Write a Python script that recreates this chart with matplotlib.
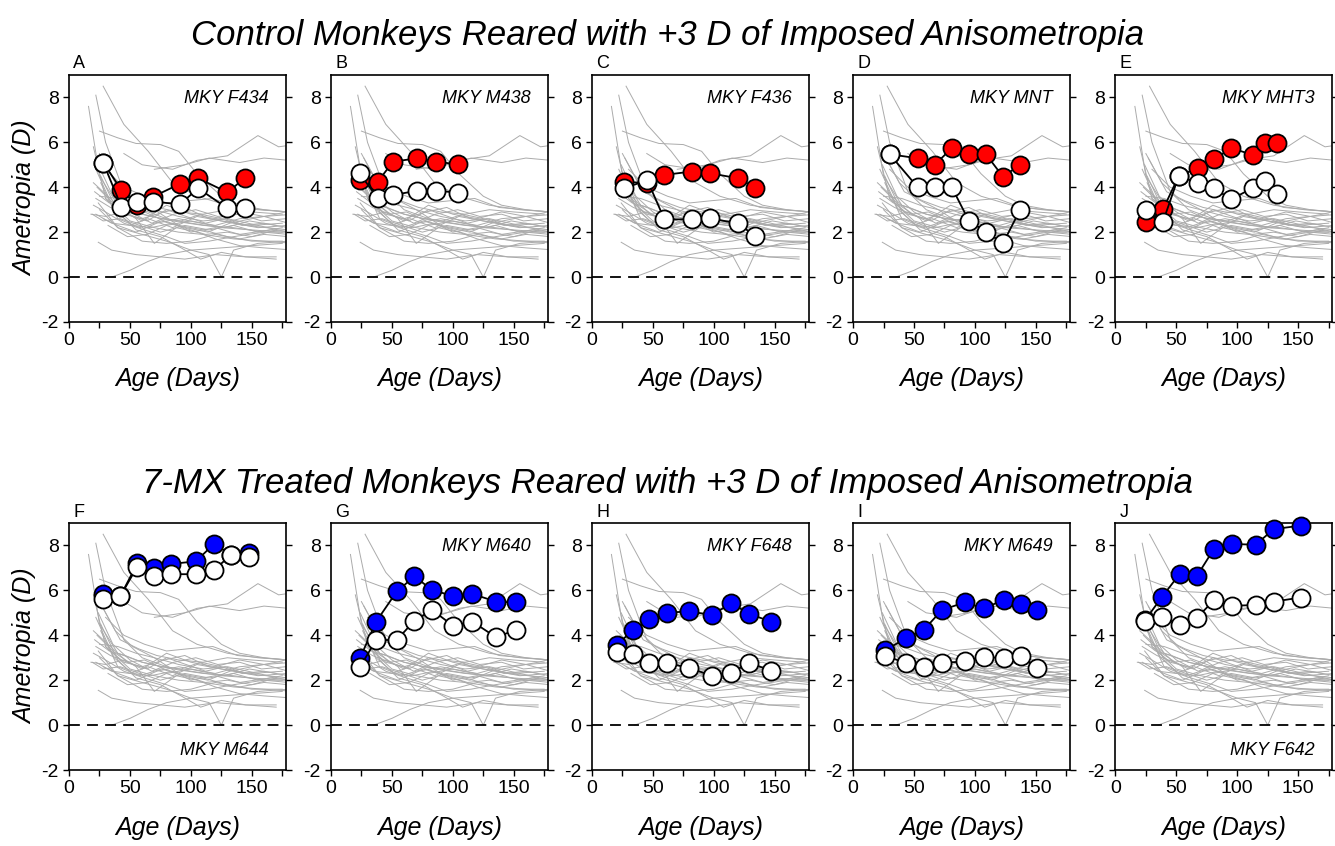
import matplotlib
matplotlib.use("Agg")
import matplotlib.pyplot as plt

plt.rcParams["font.family"] = ["Liberation Sans", "DejaVu Sans"]
plt.rcParams["axes.unicode_minus"] = False

# normative (untreated) monkeys, same background in every panel
norm_ages = [
    [16, 25, 40, 60, 85, 110, 135, 160, 185],
    [22, 30, 45, 60, 80, 100, 125, 150, 175],
    [28, 45, 65, 85, 105, 130, 155, 180],
    [25, 40, 55, 75, 90, 105, 125, 140, 160, 180],
    [45, 60, 85, 105, 130, 155, 172, 185],
    [70, 95, 115, 140, 160, 180],
    [35, 50, 65, 80, 100, 125, 150, 175],
    [25, 40, 60, 80, 100, 115, 125, 135, 155, 180],
    [24, 35, 55, 75, 95, 120, 145, 170],
    [20, 30, 50, 70, 90, 110, 135, 160, 185],
    [20, 32, 48, 64, 80, 96, 112, 128, 145, 162, 180],
    [22, 35, 50, 65, 85, 105, 125, 150, 175],
    [18, 30, 45, 60, 80, 100, 120, 140, 160, 185],
    [25, 40, 55, 70, 90, 110, 130, 155, 180],
    [22, 37, 52, 67, 85, 100, 120, 140, 165, 185],
    [27, 42, 57, 72, 90, 110, 130, 150, 175],
    [20, 30, 45, 62, 80, 95, 115, 135, 160, 180],
    [23, 38, 55, 70, 88, 105, 120, 140, 160, 185],
    [30, 45, 60, 78, 95, 115, 135, 155, 180],
    [26, 40, 55, 75, 92, 108, 125, 145, 170],
    [21, 33, 46, 60, 76, 92, 108, 125, 142, 160, 180],
    [24, 36, 50, 68, 86, 104, 122, 140, 158, 178],
    [19, 28, 42, 58, 75, 95, 115, 135, 155, 175],
    [30, 45, 62, 80, 98, 118, 138, 158, 180],
    [24, 40, 60, 80, 100, 120, 140, 160, 180],
    [28, 40, 55, 72, 90, 108, 128, 148, 170],
    [22, 34, 48, 62, 78, 96, 114, 132, 150, 170, 185],
    [25, 38, 52, 70, 90, 110, 130, 150, 175],
    [32, 48, 64, 80, 100, 120, 140, 160, 180],
    [26, 40, 58, 76, 94, 112, 130, 150, 170],
]
norm_vals = [
    [7.6, 4.5, 3.2, 2.8, 2.5, 2.3, 2.2, 2.0, 2.0],
    [8.1, 6.0, 3.8, 3.0, 2.6, 2.4, 2.2, 2.1, 2.0],
    [8.5, 6.8, 5.6, 4.2, 3.6, 3.2, 3.0, 2.9],
    [6.5, 6.2, 5.95, 5.9, 5.6, 4.6, 3.6, 3.2, 3.0, 2.9],
    [5.5, 5.0, 4.8, 5.2, 5.4, 6.3, 5.8, 5.9],
    [4.8, 5.0, 5.3, 5.1, 5.3, 5.2],
    [0.0, 0.3, 0.7, 1.0, 1.2, 1.3, 1.4, 1.5],
    [3.0, 2.2, 1.9, 1.6, 1.2, 1.0, 0.0, 1.2, 1.5, 1.6],
    [1.55, 1.2, 1.0, 0.9, 0.8, 1.0, 0.9, 0.9],
    [5.8, 3.5, 2.5, 2.2, 2.0, 1.9, 1.7, 1.6, 1.5],
    [4.2, 3.6, 2.8, 2.5, 3.0, 2.7, 2.4, 2.6, 2.3, 2.2, 2.1],
    [2.8, 2.4, 2.3, 2.6, 2.2, 2.7, 2.5, 2.3, 2.4],
    [2.8, 2.7, 2.9, 2.5, 3.2, 2.8, 2.6, 2.9, 2.7, 2.8],
    [3.6, 3.5, 3.2, 3.0, 2.7, 2.5, 2.6, 2.3, 2.0],
    [4.8, 3.0, 2.3, 2.2, 2.4, 2.0, 2.2, 1.9, 2.1, 2.0],
    [5.3, 3.8, 3.4, 3.1, 2.9, 2.8, 3.0, 2.9, 2.8],
    [3.2, 2.9, 2.4, 2.1, 1.8, 1.5, 1.6, 1.8, 2.0, 1.9],
    [4.0, 3.2, 2.6, 1.5, 2.2, 2.0, 1.7, 1.4, 1.3, 1.2],
    [3.5, 2.8, 2.6, 2.9, 3.1, 2.6, 2.4, 2.2, 2.3],
    [4.5, 2.9, 2.1, 1.8, 1.3, 0.8, 1.1, 0.9, 0.8],
    [3.8, 3.3, 3.1, 2.8, 2.6, 2.5, 2.8, 2.6, 2.3, 2.4, 2.2],
    [5.0, 3.6, 2.9, 2.4, 2.8, 3.0, 2.7, 2.8, 2.5, 2.6],
    [2.8, 2.5, 2.6, 2.3, 2.0, 2.3, 2.1, 2.3, 2.0, 2.2],
    [4.8, 4.0, 3.6, 3.3, 3.4, 3.5, 3.1, 3.0, 2.9],
    [3.3, 2.2, 1.6, 1.5, 1.6, 1.9, 1.7, 1.9, 1.8],
    [2.6, 2.3, 2.0, 2.4, 2.6, 2.4, 2.2, 2.5, 2.3],
    [3.5, 3.1, 2.8, 2.9, 2.5, 2.2, 2.0, 2.4, 2.6, 2.8, 3.0],
    [5.5, 4.2, 3.5, 3.0, 2.3, 2.1, 1.8, 1.6, 1.6],
    [2.3, 1.8, 1.9, 2.3, 2.5, 2.3, 2.6, 2.7, 2.4],
    [4.2, 2.6, 2.2, 2.5, 2.2, 1.9, 2.0, 1.8, 2.1],
]

# control monkeys: treated eye (red) and fellow eye (white)
A_age = [28, 43, 56, 69, 91, 106, 130, 144]
A_treated = [5.1, 3.88, 3.2, 3.58, 4.15, 4.4, 3.77, 4.4]
A_fellow = [5.1, 3.13, 3.36, 3.36, 3.24, 3.95, 3.06, 3.06]

B_age = [23.5, 38.4, 51, 71, 86, 104]
B_treated = [4.32, 4.25, 5.14, 5.29, 5.14, 5.02]
B_fellow = [4.62, 3.5, 3.65, 3.85, 3.85, 3.76]

C_age = [26.5, 45.4, 59.5, 82, 97, 120, 134]
C_treated = [4.25, 4.18, 4.55, 4.7, 4.62, 4.4, 3.98]
C_fellow = [3.95, 4.32, 2.57, 2.57, 2.61, 2.39, 1.82]

D_age = [30, 53, 67, 81, 95, 109, 123, 137]
D_treated = [5.47, 5.29, 5.0, 5.74, 5.47, 5.47, 4.47, 5.0]
D_fellow = [5.47, 4.0, 4.0, 4.0, 2.51, 2.02, 1.5, 2.99]

E_age = [25, 39, 52, 67.5, 81, 95, 113, 122.5, 133]
E_treated = [2.46, 3.01, 4.5, 4.85, 5.25, 5.74, 5.44, 5.96, 5.96]
E_fellow = [2.98, 2.46, 4.5, 4.2, 3.95, 3.46, 3.98, 4.29, 3.7]

# 7-MX treated monkeys: treated eye (blue) and fellow eye (white)
F_age = [28, 42, 56, 70, 84, 104, 119, 133, 148]
F_treated = [5.84, 5.73, 7.2, 7.0, 7.18, 7.29, 8.07, 7.58, 7.66]
F_fellow = [5.6, 5.73, 7.06, 6.65, 6.72, 6.72, 6.91, 7.58, 7.48]

G_age = [24, 37, 54, 68.5, 83, 100, 116, 135.5, 151.5]
G_treated = [3.0, 4.6, 5.95, 6.62, 6.02, 5.75, 5.84, 5.5, 5.46]
G_fellow = [2.6, 3.79, 3.79, 4.65, 5.13, 4.43, 4.61, 3.91, 4.24]

H_age = [20.5, 33.7, 47, 61.6, 79.5, 98.6, 114.5, 129, 147]
H_treated = [3.57, 4.24, 4.73, 5.01, 5.06, 4.91, 5.43, 4.95, 4.61]
H_fellow = [3.27, 3.15, 2.75, 2.75, 2.56, 2.19, 2.33, 2.78, 2.42]

I_age = [26.6, 43.8, 58, 73, 91.5, 107.4, 123.8, 138, 150.7]
I_treated = [3.35, 3.87, 4.24, 5.13, 5.46, 5.2, 5.58, 5.4, 5.13]
I_fellow = [3.09, 2.75, 2.6, 2.75, 2.85, 3.05, 2.97, 3.08, 2.56]

J_age = [24.7, 38.4, 52.9, 67, 80.8, 95.3, 115, 130, 152]
J_treated = [4.7, 5.72, 6.74, 6.65, 7.84, 8.07, 8.03, 8.73, 8.88]
J_fellow = [4.65, 4.8, 4.46, 4.79, 5.55, 5.31, 5.35, 5.5, 5.68]

letters = ["A", "B", "C", "D", "E", "F", "G", "H", "I", "J"]
monkeys = ["MKY F434", "MKY M438", "MKY F436", "MKY MNT", "MKY MHT3",
           "MKY M644", "MKY M640", "MKY F648", "MKY M649", "MKY F642"]
ages = [A_age, B_age, C_age, D_age, E_age, F_age, G_age, H_age, I_age, J_age]
treated = [A_treated, B_treated, C_treated, D_treated, E_treated,
           F_treated, G_treated, H_treated, I_treated, J_treated]
fellow = [A_fellow, B_fellow, C_fellow, D_fellow, E_fellow,
          F_fellow, G_fellow, H_fellow, I_fellow, J_fellow]
label_low = ["MKY M644", "MKY F642"]

fig = plt.figure(figsize=(13.35, 8.46), dpi=100)

lefts = [0.0517, 0.2479, 0.4434, 0.639, 0.8355]
w = 0.1625
bottoms = [0.6194, 0.0898]
h = 0.292

for i in range(10):
    row = i // 5
    col = i % 5
    ax = fig.add_axes([lefts[col], bottoms[row], w, h])
    for xa, ya in zip(norm_ages, norm_vals):
        ax.plot(xa, ya, color="#ababab", lw=0.7, zorder=1)
    ax.axhline(0, color="black", lw=1.3, linestyle=(0, (6, 4)), zorder=2)
    col_fill = "#ff0000" if row == 0 else "#0000ff"
    ax.plot(ages[i], treated[i], "-o", color="black", lw=1.3, ms=13,
            mfc=col_fill, mec="black", mew=1.3, zorder=3, clip_on=False)
    ax.plot(ages[i], fellow[i], "-o", color="black", lw=1.3, ms=13,
            mfc="white", mec="black", mew=1.3, zorder=4, clip_on=False)
    ax.set_xlim(0, 178)
    ax.set_ylim(-2, 9)
    ax.set_xticks([0, 50, 100, 150])
    ax.set_xticks([25, 75, 125, 175], minor=True)
    ax.set_yticks([-2, 0, 2, 4, 6, 8])
    ax.tick_params(axis="both", which="both", direction="out", length=4,
                   width=1, labelsize=14)
    ax.tick_params(axis="y", right=True, labelright=False)
    for sp in ax.spines.values():
        sp.set_linewidth(1.2)
    if monkeys[i] in label_low:
        ax.text(0.92, 0.08, monkeys[i], transform=ax.transAxes, ha="right",
                va="center", fontsize=13, style="italic")
    else:
        ax.text(0.92, 0.905, monkeys[i], transform=ax.transAxes, ha="right",
                va="center", fontsize=13, style="italic")
    ax.text(0.02, 1.01, letters[i], transform=ax.transAxes, ha="left",
            va="bottom", fontsize=13)
    ax.set_xlabel("Age (Days)", fontsize=18, style="italic", labelpad=13)
    if col == 0:
        ax.set_ylabel("Ametropia (D)", fontsize=18, style="italic", labelpad=3)

fig.text(0.5, 0.958, "Control Monkeys Reared with +3 D of Imposed Anisometropia",
         ha="center", va="center", fontsize=25, style="italic")
fig.text(0.5, 0.428, "7-MX Treated Monkeys Reared with +3 D of Imposed Anisometropia",
         ha="center", va="center", fontsize=25, style="italic")

fig.savefig("out.png", dpi=100)
